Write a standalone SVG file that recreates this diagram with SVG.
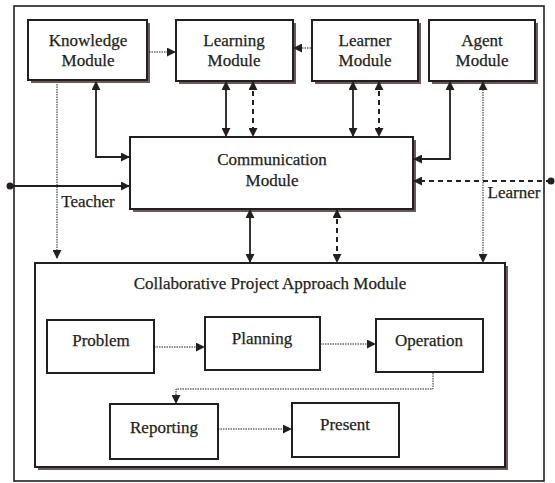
<svg xmlns="http://www.w3.org/2000/svg" width="555" height="483" viewBox="0 0 555 483">
<defs>
<marker id="ah" viewBox="0 0 10 10" refX="9" refY="5" markerWidth="9" markerHeight="9" markerUnits="userSpaceOnUse" orient="auto-start-reverse"><path d="M0,0 L10,5 L0,10 z" fill="#231f20"/></marker>
</defs>
<style>
.box{fill:#fff;stroke:#231f20;stroke-width:2}
.sh{fill:#6a5a5a}
text{font-family:"Liberation Serif","Times New Roman",serif;font-size:17px;fill:#231f20;text-anchor:middle;stroke:#231f20;stroke-width:0.25}
.solid{fill:none;stroke:#231f20;stroke-width:1.8}
.dash{fill:none;stroke:#231f20;stroke-width:2;stroke-dasharray:5,4}
.dot{fill:none;stroke:#231f20;stroke-width:1;stroke-dasharray:1.5,1}
</style>
<rect width="555" height="483" fill="#fff"/>
<rect x="14" y="6" width="530" height="475" fill="none" stroke="#231f20" stroke-width="1.6"/>

<g id="knowledge"><rect class="sh" x="31" y="23" width="119" height="60"/><rect class="box" x="28" y="20" width="119" height="60"/><text x="88" y="46">Knowledge</text><text x="88" y="66">Module</text></g>
<g id="learning"><rect class="sh" x="179" y="23" width="117" height="61"/><rect class="box" x="176" y="20" width="117" height="61"/><text x="234" y="46">Learning</text><text x="234" y="66">Module</text></g>
<g id="learner"><rect class="sh" x="315" y="23" width="106" height="61"/><rect class="box" x="312" y="20" width="106" height="61"/><text x="365" y="46">Learner</text><text x="365" y="66">Module</text></g>
<g id="agent"><rect class="sh" x="432" y="23" width="106" height="61"/><rect class="box" x="429" y="20" width="106" height="61"/><text x="482" y="46">Agent</text><text x="482" y="66">Module</text></g>
<g id="communication"><rect class="sh" x="133" y="140" width="283" height="72"/><rect class="box" x="130" y="137" width="283" height="72"/><text x="272" y="165">Communication</text><text x="272" y="186">Module</text></g>
<g id="cpam"><rect class="sh" x="38" y="266" width="470" height="204"/><rect class="box" x="35" y="263" width="470" height="204"/><text x="270" y="289">Collaborative Project Approach Module</text></g>
<g id="problem"><rect class="box" x="47" y="320" width="107" height="53"/><text x="101" y="346">Problem</text></g>
<g id="planning"><rect class="box" x="205" y="317" width="115" height="53"/><text x="262" y="344">Planning</text></g>
<g id="operation"><rect class="box" x="376" y="319" width="107" height="53"/><text x="429" y="346">Operation</text></g>
<g id="reporting"><rect class="box" x="110" y="404" width="108" height="55"/><text x="164" y="433">Reporting</text></g>
<g id="present"><rect class="box" x="292" y="403" width="107" height="54"/><text x="345" y="430">Present</text></g>

<g id="connectors">
<path class="dot" d="M149,52 H175" marker-end="url(#ah)"/>
<path class="dot" d="M311,48 H294" marker-end="url(#ah)"/>
<path class="solid" d="M226,82 V136" marker-start="url(#ah)" marker-end="url(#ah)"/>
<path class="dash" d="M253,82 V136" marker-start="url(#ah)" marker-end="url(#ah)"/>
<path class="solid" d="M353,82 V136" marker-start="url(#ah)" marker-end="url(#ah)"/>
<path class="dash" d="M379,82 V136" marker-start="url(#ah)" marker-end="url(#ah)"/>
<path class="solid" d="M96,82 V157 H129" marker-start="url(#ah)" marker-end="url(#ah)"/>
<path class="dot" d="M57,84 V258" marker-end="url(#ah)"/>
<path class="solid" d="M450,82 V159 H414" marker-start="url(#ah)" marker-end="url(#ah)"/>
<path class="dot" d="M483,82 V262" marker-start="url(#ah)" marker-end="url(#ah)"/>
<circle cx="10" cy="186" r="3.5" fill="#231f20"/>
<path class="solid" d="M10,186 H129" marker-end="url(#ah)"/>
<text x="88" y="207">Teacher</text>
<circle cx="551" cy="181" r="3.5" fill="#231f20"/>
<path class="dash" d="M551,181 H414" marker-end="url(#ah)"/>
<text x="514" y="198">Learner</text>
<path class="solid" d="M250,210 V262" marker-start="url(#ah)" marker-end="url(#ah)"/>
<path class="dash" d="M337,210 V262" marker-start="url(#ah)" marker-end="url(#ah)"/>
<path class="dot" d="M154,347 H204" marker-end="url(#ah)"/>
<path class="dot" d="M320,344 H375" marker-end="url(#ah)"/>
<path class="dot" d="M433,373 V389 H176 V403" marker-end="url(#ah)"/>
<path class="dot" d="M218,429 H291" marker-end="url(#ah)"/>
</g>
</svg>
